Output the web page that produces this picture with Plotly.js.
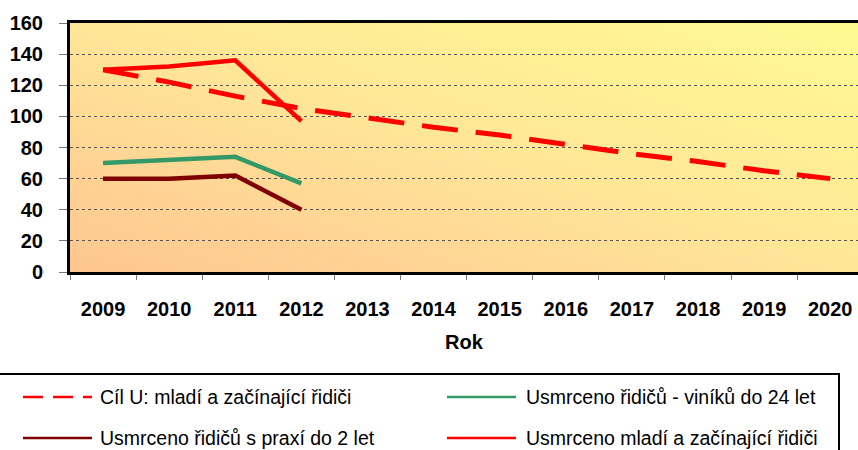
<!DOCTYPE html>
<html>
<head>
<meta charset="utf-8">
<script src="https://cdn.plot.ly/plotly-3.0.1.min.js"></script>
<style>html,body{margin:0;padding:0;background:#fff;overflow:hidden}</style>
</head>
<body>
<div id="chart" style="width:858px;height:450px"></div>
<script>
// ---- data ----
var years = ['2009','2010','2011','2012','2013','2014','2015','2016','2017','2018','2019','2020'];
var cilName = 'Cíl U: mladí a začínající řidiči';
var cilValues = [130,122,113,105,99,93,88,82,76,71,65,60];
var greenName = 'Usmrceno řidičů - viníků do 24 let';
var greenValues = [70,72,74,57];
var darkName = 'Usmrceno řidičů s praxí do 2 let';
var darkValues = [60,60,62,40];
var redName = 'Usmrceno mladí a začínající řidiči';
var redValues = [130,132,136,97];
var yTicks = [0,20,40,60,80,100,120,140,160];
var xTitle = 'Rok';

// ---- geometry helpers ----
var W = 858, H = 450, ML = 70, MT = 23, MB = 178, MR = 0;
var PW = W - ML - MR, PH = H - MT - MB;
function px(x){ return (x - ML) / PW; }
function py(y){ return (H - MB - y) / PH; }

// gradient background image (isolines along the top-left/bottom-right diagonal)
var cv = document.createElement('canvas');
cv.width = PW; cv.height = PH;
var cx = cv.getContext('2d');
var len = Math.sqrt(PW*PW + PH*PH);
var proj = 2*PW*PH/len;
var g = cx.createLinearGradient(0, PH, PH/len*proj, PH - PW/len*proj);
g.addColorStop(0, '#FDC68E');
g.addColorStop(0.25, '#FFD595');
g.addColorStop(0.5, '#FFE697');
g.addColorStop(1, '#FFFA92');
cx.fillStyle = g; cx.fillRect(0, 0, PW, PH);
var bg = cv.toDataURL('image/png');

var traces = [
  {x: years, y: cilValues, name: cilName, mode: 'lines', line: {color: '#FF0000', width: 5, dash: '36px,18px'}},
  {x: years.slice(0, greenValues.length), y: greenValues, name: greenName, mode: 'lines', line: {color: '#339966', width: 4.5}},
  {x: years.slice(0, darkValues.length), y: darkValues, name: darkName, mode: 'lines', line: {color: '#800000', width: 4.5}},
  {x: years.slice(0, redValues.length), y: redValues, name: redName, mode: 'lines', line: {color: '#FF0000', width: 4.5}}
];

var FONT = 'Liberation Sans, Arial, sans-serif';

// manual legend
var legItems = [
  {name: cilName, color: '#FF0000', dash: '20px,10px', lx: 23, tx: 98, ly: 397},
  {name: greenName, color: '#339966', dash: 'solid', lx: 447, tx: 524, ly: 397},
  {name: darkName, color: '#800000', dash: 'solid', lx: 23, tx: 98, ly: 438},
  {name: redName, color: '#FF0000', dash: 'solid', lx: 447, tx: 524, ly: 438}
];
var shapes = [
  {type: 'rect', xref: 'paper', yref: 'paper', x0: px(-10), x1: px(839), y0: py(470), y1: py(374),
   line: {color: '#000', width: 2}, fillcolor: 'rgba(0,0,0,0)'}
];
var annotations = [];
legItems.forEach(function(it){
  shapes.push({type: 'line', xref: 'paper', yref: 'paper', x0: px(it.lx), x1: px(it.lx + 69), y0: py(it.ly), y1: py(it.ly),
    line: {color: it.color, width: 2.5, dash: it.dash}});
  annotations.push({xref: 'paper', yref: 'paper', x: px(it.tx), y: py(it.ly), xanchor: 'left', yanchor: 'middle',
    text: it.name, showarrow: false, font: {family: FONT, size: 19.5, color: '#000'}});
});

var layout = {
  width: W, height: H,
  margin: {l: ML, r: MR, t: MT, b: MB, pad: 0},
  paper_bgcolor: '#fff',
  plot_bgcolor: 'rgba(0,0,0,0)',
  showlegend: false,
  images: [{source: bg, xref: 'paper', yref: 'paper', x: 0, y: 1, sizex: 1, sizey: 1,
            sizing: 'stretch', xanchor: 'left', yanchor: 'top', layer: 'below'}],
  xaxis: {
    type: 'category', categoryarray: years, categoryorder: 'array',
    range: [-0.5, 11.42], tickson: 'boundaries',
    showline: true, linecolor: '#000', linewidth: 3, mirror: true,
    ticks: 'outside', ticklen: 5, tickcolor: '#777', tickwidth: 1,
    showgrid: false, zeroline: false,
    ticklabelstandoff: 17,
    tickfont: {family: FONT, size: 20, color: '#000', weight: 'bold'},
    title: {text: '<b>' + xTitle + '</b>', standoff: 16, font: {family: FONT, size: 20, color: '#000'}}
  },
  yaxis: {
    range: [0, 160], tickvals: yTicks, ticktext: yTicks.map(String),
    showline: true, linecolor: '#000', linewidth: 3,
    ticks: 'outside', ticklen: 8, tickcolor: '#777', tickwidth: 1,
    showgrid: true, gridcolor: '#555', gridwidth: 1, griddash: 'dot',
    zeroline: false, ticklabelstandoff: 12,
    tickfont: {family: FONT, size: 20, color: '#000', weight: 'bold'}
  },
  shapes: shapes,
  annotations: annotations
};

Plotly.newPlot('chart', traces, layout, {displayModeBar: false, staticPlot: true});
</script>
</body>
</html>
